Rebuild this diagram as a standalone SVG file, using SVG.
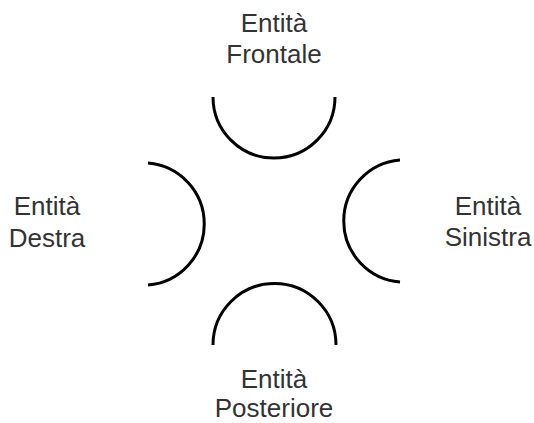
<svg xmlns="http://www.w3.org/2000/svg" width="534" height="423" viewBox="0 0 534 423">
<style>
.arc{fill:none;stroke:#000;stroke-width:3}
.lbl{font-family:"Liberation Sans",Arial,sans-serif;font-size:26px;fill:#333;text-anchor:middle}
</style>
<rect width="534" height="423" fill="#fff"/>
<g id="connectors"/>
<g id="frontale">
<path class="arc" d="M213,97 A61,61 0 0 0 335,97"/>
<text class="lbl" x="274" y="32">Entità</text>
<text class="lbl" x="274" y="63">Frontale</text>
</g>
<g id="destra">
<path class="arc" d="M148,163 A61.2,61.2 0 0 1 148,285"/>
<text class="lbl" x="47" y="215">Entità</text>
<text class="lbl" x="47" y="247">Destra</text>
</g>
<g id="sinistra">
<path class="arc" d="M400,160 A61.2,61.2 0 0 0 400,282"/>
<text class="lbl" x="488" y="215">Entità</text>
<text class="lbl" x="488" y="246">Sinistra</text>
</g>
<g id="posteriore">
<path class="arc" d="M213,345 A61.2,61.2 0 0 1 336,345"/>
<text class="lbl" x="274" y="388">Entità</text>
<text class="lbl" x="274" y="417">Posteriore</text>
</g>
</svg>
